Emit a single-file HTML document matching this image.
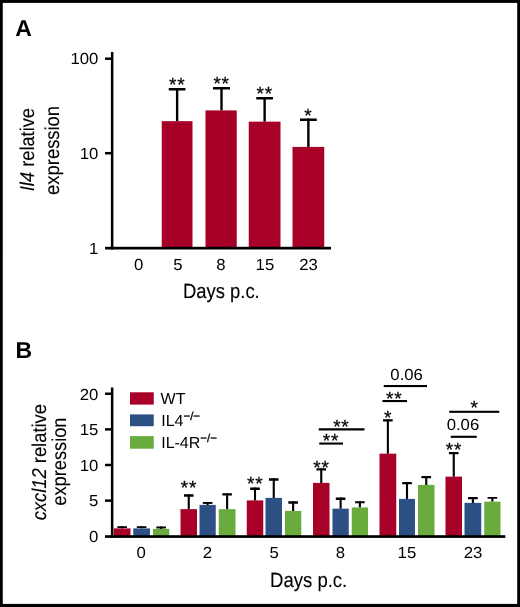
<!DOCTYPE html>
<html><head><meta charset="utf-8"><title>Figure</title>
<style>
html,body{margin:0;padding:0;background:#fff;}
svg{display:block;font-family:"Liberation Sans",sans-serif;fill:#000;text-rendering:geometricPrecision;will-change:transform;opacity:0.999;}
</style></head><body>
<svg width="520" height="607" viewBox="0 0 520 607">
<rect x="0" y="0" width="520" height="607" fill="#fff"/>
<text transform="translate(15.30 36.00) scale(1 1)" font-size="23" text-anchor="start" font-weight="bold">A</text>
<rect x="175.93" y="88.00" width="2.40" height="33.25" fill="#000"/>
<rect x="168.75" y="88.00" width="16.75" height="2.50" fill="#000"/>
<rect x="161.75" y="121.15" width="30.75" height="126.85" fill="#a70028"/>
<text transform="translate(177.22 91.10) scale(1 1)" font-size="19" text-anchor="middle" letter-spacing="0.8" stroke="#000" stroke-width="0.25">**</text>
<rect x="220.30" y="87.00" width="2.40" height="23.50" fill="#000"/>
<rect x="213.00" y="87.00" width="17.00" height="2.50" fill="#000"/>
<rect x="205.50" y="110.40" width="31.25" height="137.60" fill="#a70028"/>
<text transform="translate(221.60 90.10) scale(1 1)" font-size="19" text-anchor="middle" letter-spacing="0.8" stroke="#000" stroke-width="0.25">**</text>
<rect x="263.43" y="97.00" width="2.40" height="24.75" fill="#000"/>
<rect x="256.25" y="97.00" width="16.75" height="2.50" fill="#000"/>
<rect x="248.75" y="121.65" width="31.75" height="126.35" fill="#a70028"/>
<text transform="translate(264.73 100.10) scale(1 1)" font-size="19" text-anchor="middle" letter-spacing="0.8" stroke="#000" stroke-width="0.25">**</text>
<rect x="307.18" y="118.50" width="2.40" height="28.50" fill="#000"/>
<rect x="300.00" y="118.50" width="16.75" height="2.50" fill="#000"/>
<rect x="292.50" y="146.90" width="31.75" height="101.10" fill="#a70028"/>
<text transform="translate(308.07 121.60) scale(1 1)" font-size="19" text-anchor="middle" stroke="#000" stroke-width="0.25">*</text>
<rect x="110.90" y="52.00" width="2.50" height="197.50" fill="#000"/>
<rect x="105.00" y="246.80" width="226.00" height="2.70" fill="#000"/>
<rect x="105.00" y="57.45" width="7.00" height="2.50" fill="#000"/>
<text transform="translate(98.40 64.45) scale(1.045 1)" font-size="16" text-anchor="end" >100</text>
<rect x="105.00" y="151.95" width="7.00" height="2.50" fill="#000"/>
<text transform="translate(98.40 158.95) scale(1.045 1)" font-size="16" text-anchor="end" >10</text>
<text transform="translate(98.40 253.50) scale(1.045 1)" font-size="16" text-anchor="end" >1</text>
<text transform="translate(138.60 270.00) scale(1.045 1)" font-size="16" text-anchor="middle" >0</text>
<text transform="translate(177.80 270.00) scale(1.045 1)" font-size="16" text-anchor="middle" >5</text>
<text transform="translate(221.00 270.00) scale(1.045 1)" font-size="16" text-anchor="middle" >8</text>
<text transform="translate(264.90 270.00) scale(1.045 1)" font-size="16" text-anchor="middle" >15</text>
<text transform="translate(308.60 270.00) scale(1.045 1)" font-size="16" text-anchor="middle" >23</text>
<text transform="translate(182.90 298.00) scale(0.895 1)" font-size="20.6" text-anchor="start" stroke="#000" stroke-width="0.1" >Days p.c.</text>
<text transform="translate(34.40 149.60) rotate(-90) scale(0.913 1)" font-size="20" text-anchor="middle" stroke="#000" stroke-width="0.1" ><tspan font-style="italic">Il4</tspan> relative</text>
<text transform="translate(58.60 150.40) rotate(-90) scale(0.92 1)" font-size="20" text-anchor="middle" stroke="#000" stroke-width="0.1" >expression</text>
<text transform="translate(15.50 358.00) scale(1 1)" font-size="23" text-anchor="start" font-weight="bold">B</text>
<rect x="121.08" y="526.25" width="2.10" height="2.25" fill="#000"/>
<rect x="117.33" y="526.25" width="9.60" height="1.75" fill="#000"/>
<rect x="113.75" y="528.40" width="16.75" height="7.60" fill="#a70028"/>
<rect x="140.57" y="526.25" width="2.10" height="2.25" fill="#000"/>
<rect x="136.82" y="526.25" width="9.60" height="1.75" fill="#000"/>
<rect x="133.25" y="528.40" width="16.75" height="7.60" fill="#2c4f84"/>
<rect x="160.07" y="526.50" width="2.10" height="2.50" fill="#000"/>
<rect x="156.32" y="526.50" width="9.60" height="2.00" fill="#000"/>
<rect x="153.00" y="528.90" width="16.25" height="7.10" fill="#69ac3d"/>
<rect x="187.70" y="494.25" width="2.10" height="15.00" fill="#000"/>
<rect x="183.95" y="494.25" width="9.60" height="2.50" fill="#000"/>
<rect x="180.50" y="509.15" width="16.50" height="26.85" fill="#a70028"/>
<rect x="206.57" y="502.00" width="2.10" height="3.00" fill="#000"/>
<rect x="202.82" y="502.00" width="9.60" height="1.90" fill="#000"/>
<rect x="199.50" y="504.90" width="16.25" height="31.10" fill="#2c4f84"/>
<rect x="226.07" y="493.25" width="2.10" height="16.00" fill="#000"/>
<rect x="222.32" y="493.25" width="9.60" height="2.25" fill="#000"/>
<rect x="218.75" y="509.15" width="16.75" height="26.85" fill="#69ac3d"/>
<rect x="253.95" y="487.50" width="2.10" height="13.00" fill="#000"/>
<rect x="250.20" y="487.50" width="9.60" height="2.50" fill="#000"/>
<rect x="246.75" y="500.40" width="16.50" height="35.60" fill="#a70028"/>
<rect x="272.70" y="478.25" width="2.10" height="19.75" fill="#000"/>
<rect x="268.95" y="478.25" width="9.60" height="2.50" fill="#000"/>
<rect x="265.50" y="497.90" width="16.50" height="38.10" fill="#2c4f84"/>
<rect x="292.07" y="501.25" width="2.10" height="9.75" fill="#000"/>
<rect x="288.32" y="501.25" width="9.60" height="2.50" fill="#000"/>
<rect x="285.00" y="510.90" width="16.25" height="25.10" fill="#69ac3d"/>
<rect x="320.20" y="468.25" width="2.10" height="14.75" fill="#000"/>
<rect x="316.45" y="468.25" width="9.60" height="2.25" fill="#000"/>
<rect x="313.00" y="482.90" width="16.50" height="53.10" fill="#a70028"/>
<rect x="339.57" y="497.50" width="2.10" height="11.25" fill="#000"/>
<rect x="335.82" y="497.50" width="9.60" height="2.50" fill="#000"/>
<rect x="332.50" y="508.65" width="16.25" height="27.35" fill="#2c4f84"/>
<rect x="358.82" y="501.25" width="2.10" height="6.25" fill="#000"/>
<rect x="355.07" y="501.25" width="9.60" height="2.00" fill="#000"/>
<rect x="351.75" y="507.40" width="16.25" height="28.60" fill="#69ac3d"/>
<rect x="386.82" y="419.25" width="2.10" height="34.50" fill="#000"/>
<rect x="383.07" y="419.25" width="9.60" height="2.25" fill="#000"/>
<rect x="379.50" y="453.65" width="16.75" height="82.35" fill="#a70028"/>
<rect x="405.95" y="482.00" width="2.10" height="17.00" fill="#000"/>
<rect x="402.20" y="482.00" width="9.60" height="2.25" fill="#000"/>
<rect x="399.00" y="498.90" width="16.00" height="37.10" fill="#2c4f84"/>
<rect x="425.20" y="476.00" width="2.10" height="9.00" fill="#000"/>
<rect x="421.45" y="476.00" width="9.60" height="2.25" fill="#000"/>
<rect x="418.00" y="484.90" width="16.50" height="51.10" fill="#69ac3d"/>
<rect x="452.70" y="452.00" width="2.10" height="24.75" fill="#000"/>
<rect x="448.95" y="452.00" width="9.60" height="2.25" fill="#000"/>
<rect x="445.50" y="476.65" width="16.50" height="59.35" fill="#a70028"/>
<rect x="471.82" y="497.00" width="2.10" height="6.00" fill="#000"/>
<rect x="468.07" y="497.00" width="9.60" height="2.25" fill="#000"/>
<rect x="464.50" y="502.90" width="16.75" height="33.10" fill="#2c4f84"/>
<rect x="491.32" y="497.00" width="2.10" height="4.75" fill="#000"/>
<rect x="487.57" y="497.00" width="9.60" height="1.75" fill="#000"/>
<rect x="484.25" y="501.65" width="16.25" height="34.35" fill="#69ac3d"/>
<text transform="translate(189.05 493.60) scale(1 1)" font-size="19" text-anchor="middle" letter-spacing="0.8" stroke="#000" stroke-width="0.25">**</text>
<text transform="translate(255.30 489.85) scale(1 1)" font-size="19" text-anchor="middle" letter-spacing="0.8" stroke="#000" stroke-width="0.25">**</text>
<text transform="translate(321.55 473.60) scale(1 1)" font-size="19" text-anchor="middle" letter-spacing="0.8" stroke="#000" stroke-width="0.25">**</text>
<text transform="translate(387.77 423.60) scale(1 1)" font-size="19" text-anchor="middle" stroke="#000" stroke-width="0.25">*</text>
<text transform="translate(454.05 455.60) scale(1 1)" font-size="19" text-anchor="middle" letter-spacing="0.8" stroke="#000" stroke-width="0.25">**</text>
<rect x="319.25" y="442.50" width="23.75" height="2.10" fill="#000"/>
<text transform="translate(331.00 447.35) scale(1 1)" font-size="19" text-anchor="middle" letter-spacing="0.8" stroke="#000" stroke-width="0.25">**</text>
<rect x="318.75" y="428.25" width="45.75" height="2.25" fill="#000"/>
<text transform="translate(341.35 433.10) scale(1 1)" font-size="19" text-anchor="middle" letter-spacing="0.8" stroke="#000" stroke-width="0.25">**</text>
<rect x="382.50" y="400.00" width="24.50" height="2.10" fill="#000"/>
<text transform="translate(394.20 404.85) scale(1 1)" font-size="19" text-anchor="middle" letter-spacing="0.8" stroke="#000" stroke-width="0.25">**</text>
<rect x="383.75" y="385.00" width="43.25" height="2.10" fill="#000"/>
<text transform="translate(406.60 379.50) scale(1.045 1)" font-size="16" text-anchor="middle" >0.06</text>
<rect x="450.75" y="435.75" width="26.00" height="2.10" fill="#000"/>
<text transform="translate(462.90 429.50) scale(1.045 1)" font-size="16" text-anchor="middle" >0.06</text>
<rect x="449.25" y="410.75" width="50.00" height="2.10" fill="#000"/>
<text transform="translate(474.10 413.60) scale(1 1)" font-size="19" text-anchor="middle" stroke="#000" stroke-width="0.25">*</text>
<rect x="110.90" y="387.50" width="2.50" height="150.40" fill="#000"/>
<rect x="105.00" y="535.20" width="400.30" height="2.70" fill="#000"/>
<text transform="translate(98.40 542.00) scale(1.045 1)" font-size="16" text-anchor="end" >0</text>
<rect x="105.00" y="499.38" width="7.00" height="2.50" fill="#000"/>
<text transform="translate(98.40 506.38) scale(1.045 1)" font-size="16" text-anchor="end" >5</text>
<rect x="105.00" y="463.75" width="7.00" height="2.50" fill="#000"/>
<text transform="translate(98.40 470.75) scale(1.045 1)" font-size="16" text-anchor="end" >10</text>
<rect x="105.00" y="428.12" width="7.00" height="2.50" fill="#000"/>
<text transform="translate(98.40 435.12) scale(1.045 1)" font-size="16" text-anchor="end" >15</text>
<rect x="105.00" y="392.50" width="7.00" height="2.50" fill="#000"/>
<text transform="translate(98.40 399.50) scale(1.045 1)" font-size="16" text-anchor="end" >20</text>
<text transform="translate(141.25 558.00) scale(1.045 1)" font-size="16" text-anchor="middle" >0</text>
<text transform="translate(207.40 558.00) scale(1.045 1)" font-size="16" text-anchor="middle" >2</text>
<text transform="translate(274.20 558.00) scale(1.045 1)" font-size="16" text-anchor="middle" >5</text>
<text transform="translate(340.40 558.00) scale(1.045 1)" font-size="16" text-anchor="middle" >8</text>
<text transform="translate(406.90 558.00) scale(1.045 1)" font-size="16" text-anchor="middle" >15</text>
<text transform="translate(473.10 558.00) scale(1.045 1)" font-size="16" text-anchor="middle" >23</text>
<text transform="translate(270.00 587.00) scale(0.9 1)" font-size="20.6" text-anchor="start" stroke="#000" stroke-width="0.1" >Days p.c.</text>
<text transform="translate(45.70 462.20) rotate(-90) scale(0.918 1)" font-size="20" text-anchor="middle" stroke="#000" stroke-width="0.1" ><tspan font-style="italic">cxcl12</tspan> relative</text>
<text transform="translate(66.30 461.60) rotate(-90) scale(0.912 1)" font-size="20" text-anchor="middle" stroke="#000" stroke-width="0.1" >expression</text>
<rect x="130.00" y="392.30" width="23.75" height="12.30" fill="#a70028"/>
<rect x="130.00" y="414.40" width="23.75" height="11.80" fill="#2c4f84"/>
<rect x="130.00" y="436.10" width="23.75" height="12.60" fill="#69ac3d"/>
<text transform="translate(160.60 403.75) scale(1 1)" font-size="16" text-anchor="start" >WT</text>
<text transform="translate(161.20 425.50) scale(1 1)" font-size="16" text-anchor="start" >IL4<tspan font-size="11.5" dy="-6.0" stroke="#000" stroke-width="0.3">−/−</tspan></text>
<text transform="translate(161.20 447.50) scale(1 1)" font-size="16" text-anchor="start" >IL-4R<tspan font-size="11.5" dy="-6.0" stroke="#000" stroke-width="0.3">−/−</tspan></text>
<rect x="0.00" y="0.00" width="520.00" height="2.90" fill="#000"/>
<rect x="0.00" y="603.90" width="520.00" height="3.10" fill="#000"/>
<rect x="0.00" y="0.00" width="2.75" height="607.00" fill="#000"/>
<rect x="517.20" y="0.00" width="2.80" height="607.00" fill="#000"/>
</svg>
</body></html>
